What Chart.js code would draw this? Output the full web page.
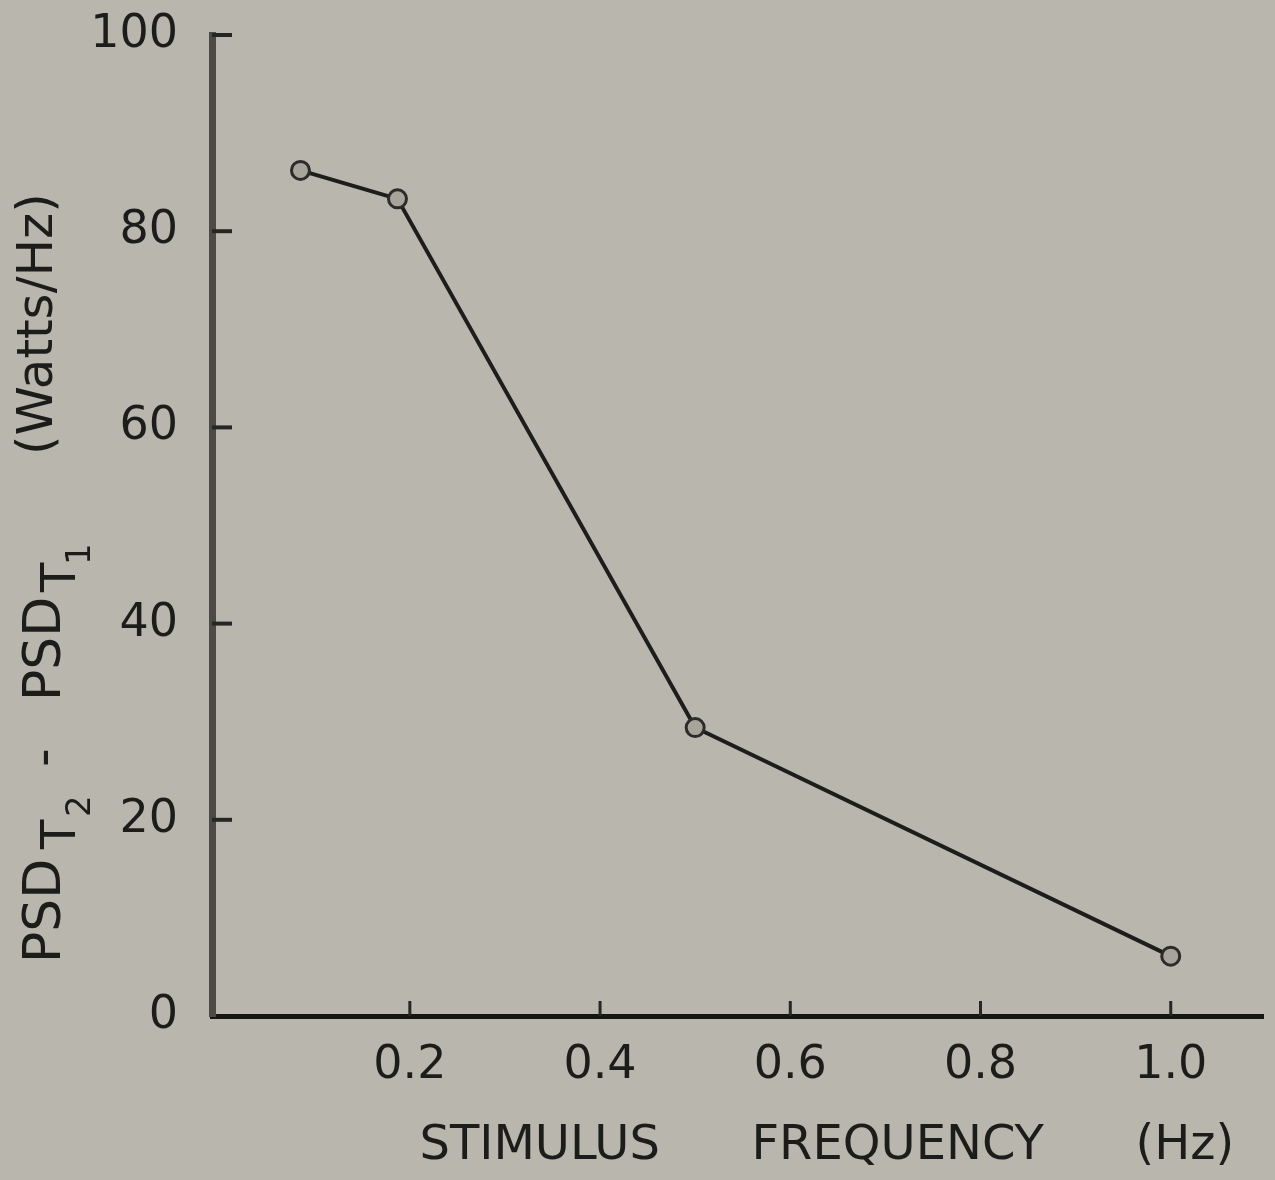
<!DOCTYPE html>
<html lang="en">
<head>
<meta charset="UTF-8">
<title>PSD difference vs stimulus frequency</title>
<style>
  html, body { margin: 0; padding: 0; background: #b9b7ad; }
  #wrap { width: 1275px; height: 1180px; }
</style>
<script src="https://cdn.jsdelivr.net/npm/chart.js"></script>
</head>
<body>
<div id="wrap"><canvas id="psdChart" width="1275" height="1180"></canvas></div>
<script>
// values
const freqHz = [0.085, 0.187, 0.5, 1.0];
const psdDiff = [86.2, 83.3, 29.4, 6.1];
const xTicks = [0.2, 0.4, 0.6, 0.8, 1.0];
const yTicks = [0, 20, 40, 60, 80, 100];
const xTitle = 'STIMULUS      FREQUENCY      (Hz)';

const ink = '#1c1c1b';
const face = '"DejaVu Sans", sans-serif';

// inward tick marks + the two axis titles (the y one needs subscripts)
const axisDecor = {
  id: 'axisDecor',
  afterDraw(chart) {
    const { ctx, chartArea: a, scales: { x, y } } = chart;
    ctx.save();
    ctx.strokeStyle = '#262624';
    ctx.lineWidth = 4;
    yTicks.forEach(v => {
      if (v === 0) return;
      const py = y.getPixelForValue(v);
      ctx.beginPath();
      ctx.moveTo(a.left, py);
      ctx.lineTo(a.left + 20, py);
      ctx.stroke();
    });
    ctx.lineWidth = 3;
    xTicks.forEach(v => {
      const px = x.getPixelForValue(v);
      ctx.beginPath();
      ctx.moveTo(px, a.bottom);
      ctx.lineTo(px, a.bottom - 15);
      ctx.stroke();
    });

    ctx.fillStyle = ink;
    // x title
    ctx.font = '48px ' + face;
    ctx.textAlign = 'center';
    ctx.textBaseline = 'middle';
    ctx.fillText(xTitle, a.left + (a.right - a.left) * 0.585, a.bottom + 131);

    // y title, rotated, written piece by piece
    ctx.translate(60, a.bottom - 53);
    ctx.rotate(-Math.PI / 2);
    ctx.textAlign = 'left';
    ctx.textBaseline = 'alphabetic';
    const put = (txt, size, at, base) => {
      ctx.font = size + 'px ' + face;
      ctx.fillText(txt, at, base);
    };
    put('PSD', 52, 0, 0);
    put('T', 48, 114, 15);
    put('2', 34, 146, 30);
    put('-', 52, 196, 0);
    put('PSD', 52, 262, 0);
    put('T', 48, 371, 15);
    put('1', 34, 398, 30);
    put('(Watts/Hz)', 50, 508, -8);
    ctx.restore();
  }
};

const ctx = document.getElementById('psdChart').getContext('2d');
new Chart(ctx, {
  type: 'scatter',
  data: {
    datasets: [{
      data: freqHz.map((f, i) => ({ x: f, y: psdDiff[i] })),
      showLine: true,
      borderColor: '#1d1d1c',
      borderWidth: 4,
      pointRadius: 9,
      pointBorderWidth: 3,
      pointBackgroundColor: '#a6a49b',
      pointBorderColor: '#2b2b29',
      clip: false
    }]
  },
  options: {
    responsive: false,
    animation: false,
    layout: { padding: { top: 35, right: 12, left: 0, bottom: 0 } },
    plugins: { legend: { display: false }, tooltip: { enabled: false } },
    scales: {
      x: {
        type: 'linear',
        min: -0.008,
        max: 1.097,
        afterBuildTicks: s => { s.ticks = xTicks.map(v => ({ value: v })); },
        afterFit: s => { s.height = 164; },
        grid: { display: false, drawTicks: false },
        border: { display: true, color: '#151514', width: 5 },
        ticks: {
          padding: 22,
          color: ink,
          font: { family: 'DejaVu Sans', size: 46 },
          callback: v => v.toFixed(1)
        }
      },
      y: {
        min: 0,
        max: 100,
        afterBuildTicks: s => { s.ticks = yTicks.map(v => ({ value: v })); },
        afterFit: s => { s.width = 212; s.paddingTop = 0; s.paddingBottom = 0; },
        grid: { display: false, drawTicks: false },
        border: { display: true, color: '#4b4a46', width: 7 },
        ticks: {
          padding: 34,
          color: ink,
          font: { family: 'DejaVu Sans', size: 46 }
        }
      }
    }
  },
  plugins: [axisDecor]
});
</script>
</body>
</html>
